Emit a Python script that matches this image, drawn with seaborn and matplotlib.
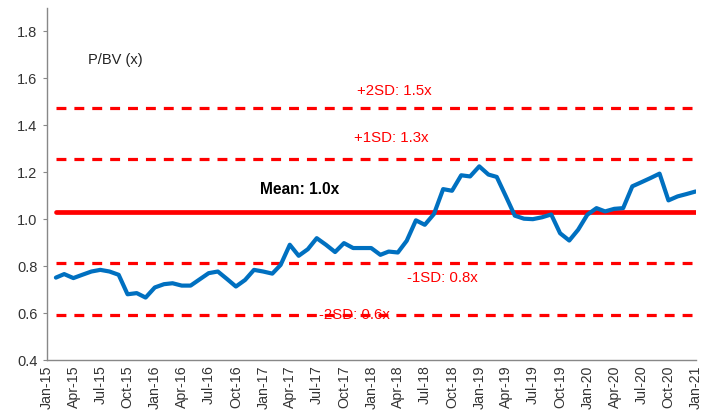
import matplotlib
matplotlib.use("Agg")
import matplotlib.pyplot as plt
import matplotlib.dates as mdates
import numpy as np
import pandas as pd
import seaborn as sns

# monthly P/BV, Jan-15 .. Dec-20 (month end)
months = pd.date_range("2015-01-31", periods=72, freq="ME")
pbv = [0.751, 0.766, 0.749, 0.763, 0.777, 0.784, 0.777, 0.763, 0.680, 0.685,
       0.666, 0.709, 0.723, 0.727, 0.717, 0.717, 0.744, 0.770, 0.777, 0.745,
       0.713, 0.741, 0.784, 0.777, 0.768, 0.805, 0.891, 0.844, 0.872, 0.919,
       0.891, 0.860, 0.898, 0.877, 0.877, 0.877, 0.848, 0.862, 0.858, 0.908,
       0.995, 0.976, 1.022, 1.128, 1.121, 1.187, 1.182, 1.225, 1.190, 1.180,
       1.097, 1.015, 1.002, 1.000, 1.008, 1.020, 0.940, 0.909, 0.955, 1.019,
       1.047, 1.033, 1.044, 1.047, 1.140, 1.157, 1.175, 1.194, 1.080, 1.097,
       1.107, 1.118]

# mean and +/- SD bands
band_names = ["+2SD", "+1SD", "Mean", "-1SD", "-2SD"]
band_values = [1.475, 1.255, 1.032, 0.812, 0.590]
band_labels = ["+2SD: 1.5x", "+1SD: 1.3x", "Mean: 1.0x", "-1SD: 0.8x", "-2SD: 0.6x"]

yticks = [0.4, 0.6, 0.8, 1.0, 1.2, 1.4, 1.6, 1.8]

sns.set_style("white")
plt.rcParams["font.family"] = ["Liberation Sans", "DejaVu Sans"]

fig = plt.figure(figsize=(7.05, 4.16), dpi=100)
ax = fig.add_axes([0.0667, 0.1346, 0.9205, 0.8464])

df = pd.DataFrame({"date": months, "pbv": pbv})

# bands across the same span as the series
for name, val in zip(band_names, band_values):
    bdf = pd.DataFrame({"date": months, "v": [val] * len(months)})
    if name == "Mean":
        sns.lineplot(data=bdf, x="date", y="v", ax=ax, color="#FF0000",
                     linewidth=3.4, zorder=2)
    else:
        sns.lineplot(data=bdf, x="date", y="v", ax=ax, color="#FF0000",
                     linewidth=2.3, linestyle=(0, (3.1, 2.5)), zorder=2)

sns.lineplot(data=df, x="date", y="pbv", ax=ax, color="#0070C0",
             linewidth=3.0, zorder=3)

# text labels
def d(s):
    return mdates.date2num(pd.Timestamp(s))

label_pos = {
    "+2SD": ("2017-11-12", 1.544),
    "+1SD": ("2017-11-03", 1.347),
    "Mean": ("2016-12-21", 1.125),
    "-1SD": ("2018-05-01", 0.750),
    "-2SD": ("2017-07-07", 0.592),
}
for name, lab in zip(band_names, band_labels):
    xs, ys = label_pos[name]
    if name == "Mean":
        ax.text(d(xs), ys, lab, fontsize=11.2, fontweight="bold", color="black",
                ha="left", va="center", zorder=4)
    else:
        ax.text(d(xs), ys, lab, fontsize=10.8, color="#FF0000",
                ha="left", va="center", zorder=4)

ax.text(d("2015-05-20"), 1.676, "P/BV (x)", fontsize=10.5, color="#222222",
        ha="left", va="center")

ax.set_xlim(d("2015-01-01"), d("2021-01-01"))
ax.set_ylim(0.4, 1.9)
ax.set_yticks(yticks)
ax.set_yticklabels([f"{t:.1f}" for t in yticks])
ax.xaxis.set_major_locator(mdates.MonthLocator(bymonth=[1, 4, 7, 10]))
ax.xaxis.set_major_formatter(mdates.DateFormatter("%b-%y"))
plt.setp(ax.get_xticklabels(), rotation=90, ha="center", va="top")

ax.set_xlabel("")
ax.set_ylabel("")
ax.tick_params(axis="y", length=3, width=0.8, color="#888888",
               labelsize=10.5, labelcolor="#333333", left=True, pad=4)
ax.tick_params(axis="x", length=0, labelsize=10.2, labelcolor="#333333", pad=4)

for side in ["top", "right"]:
    ax.spines[side].set_visible(False)
for side in ["left", "bottom"]:
    ax.spines[side].set_color("#888888")
    ax.spines[side].set_linewidth(1.0)

ax.grid(False)
fig.savefig("out.png", dpi=100)
